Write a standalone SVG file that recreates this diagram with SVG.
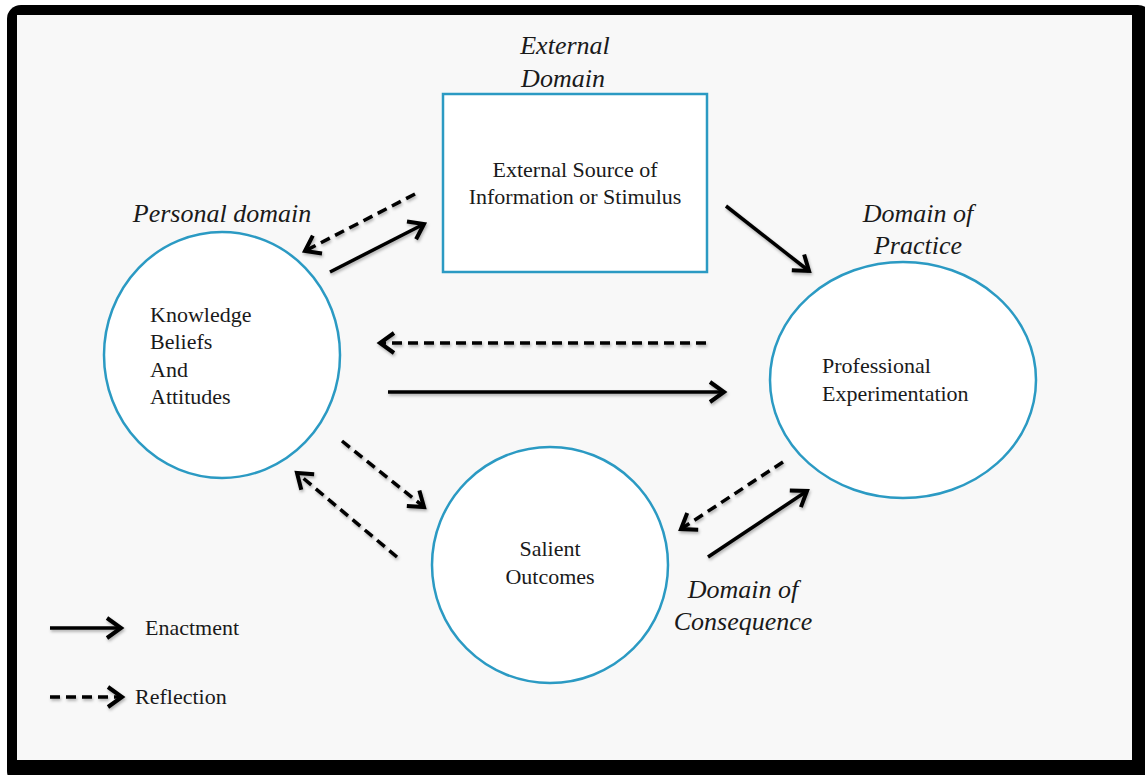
<svg xmlns="http://www.w3.org/2000/svg" width="1145" height="775" viewBox="0 0 1145 775">
<style>
.node{fill:#ffffff;stroke:#2b9ac3;stroke-width:2.5}
.t{font-family:"Liberation Serif","DejaVu Serif",serif;font-size:22px;fill:#1a1a1a}
.i{font-family:"Liberation Serif","DejaVu Serif",serif;font-size:26px;font-style:italic;fill:#1a1a1a}
.solid{stroke:#000;stroke-width:3.5;fill:none;marker-end:url(#head)}
.dash{stroke:#000;stroke-width:3.5;fill:none;stroke-dasharray:10 6;marker-end:url(#head)}
</style>
<defs>
<marker id="head" markerUnits="userSpaceOnUse" markerWidth="30" markerHeight="30" viewBox="-20 -15 30 30" refX="0" refY="0" orient="auto">
<path d="M-14,-10 L0,0 L-14,10" fill="none" stroke="#000" stroke-width="4" stroke-linejoin="miter"/>
</marker>
<filter id="sh" filterUnits="userSpaceOnUse" x="0" y="0" width="1145" height="775">
<feDropShadow dx="1" dy="2" stdDeviation="1.5" flood-color="#000" flood-opacity="0.3"/>
</filter>
</defs>
<rect x="7" y="5" width="1145" height="780" rx="14" fill="#000"/>
<rect x="17" y="15" width="1115" height="745" fill="#f8f8f8"/>

<g id="external-label"><text class="i" x="565" y="54" text-anchor="middle">External</text><text class="i" x="563" y="87" text-anchor="middle">Domain</text></g>
<g id="external-source"><rect class="node" x="443" y="94" width="264" height="178"/><text class="t" x="575" y="177" text-anchor="middle">External Source of</text><text class="t" x="575" y="204" text-anchor="middle">Information or Stimulus</text></g>
<g id="personal-label"><text class="i" x="222" y="222" text-anchor="middle">Personal domain</text></g>
<g id="knowledge"><ellipse class="node" cx="222" cy="355" rx="118" ry="123"/><text class="t" x="150" y="322">Knowledge</text><text class="t" x="150" y="349">Beliefs</text><text class="t" x="150" y="377">And</text><text class="t" x="150" y="404">Attitudes</text></g>
<g id="practice-label"><text class="i" x="918" y="222" text-anchor="middle">Domain of</text><text class="i" x="918" y="254" text-anchor="middle">Practice</text></g>
<g id="professional"><ellipse class="node" cx="903" cy="380" rx="133" ry="118"/><text class="t" x="822" y="373">Professional</text><text class="t" x="822" y="401">Experimentation</text></g>
<g id="salient"><ellipse class="node" cx="550" cy="565" rx="118" ry="118"/><text class="t" x="550" y="556" text-anchor="middle">Salient</text><text class="t" x="550" y="584" text-anchor="middle">Outcomes</text></g>
<g id="consequence-label"><text class="i" x="743" y="598" text-anchor="middle">Domain of</text><text class="i" x="743" y="630" text-anchor="middle">Consequence</text></g>

<g id="connectors" filter="url(#sh)">
<line class="dash" x1="415" y1="194" x2="305" y2="251"/>
<line class="solid" x1="330" y1="272" x2="424" y2="224"/>
<line class="solid" x1="726" y1="206" x2="809" y2="271"/>
<line class="dash" x1="706" y1="343" x2="380" y2="343"/>
<line class="solid" x1="388" y1="392" x2="724" y2="392"/>
<line class="dash" x1="342" y1="441" x2="424" y2="507"/>
<line class="dash" x1="397" y1="557" x2="297" y2="473"/>
<line class="dash" x1="783" y1="462" x2="681" y2="529"/>
<line class="solid" x1="708" y1="557" x2="807" y2="491"/>
</g>
<g id="legend">
<g filter="url(#sh)">
<line class="solid" x1="50" y1="628" x2="121" y2="628"/>
<line class="dash" x1="50" y1="697" x2="122" y2="697"/>
</g>
<text class="t" x="145" y="635">Enactment</text>
<text class="t" x="135" y="704">Reflection</text>
</g>
</svg>
